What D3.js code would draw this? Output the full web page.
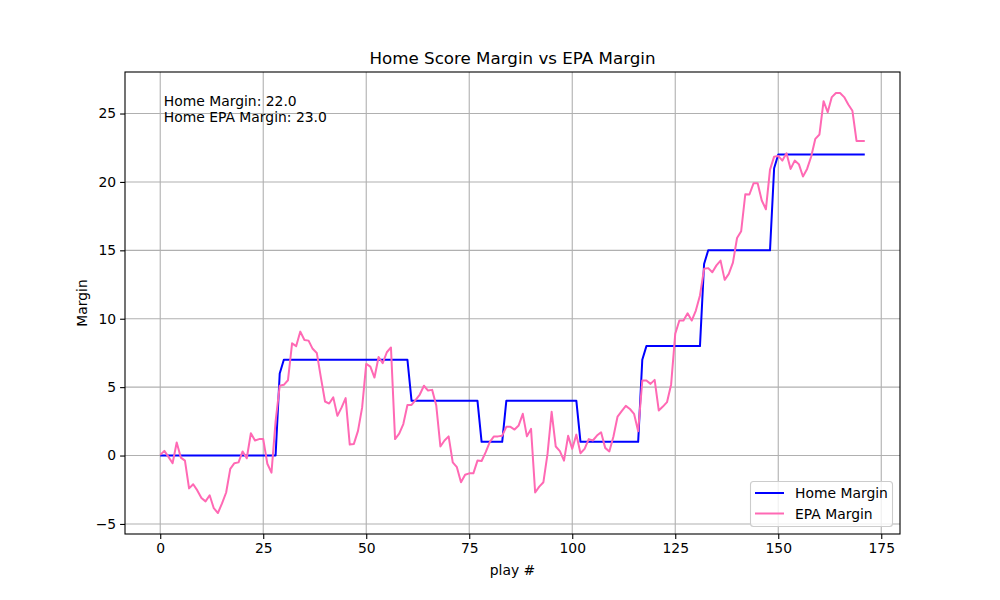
<!DOCTYPE html>
<html>
<head>
<meta charset="utf-8">
<script src="https://cdn.jsdelivr.net/npm/d3@7"></script>
<style>
  body { margin: 0; background: #fff; }
  svg { display: block; font-family: "DejaVu Sans", sans-serif; }
</style>
</head>
<body>
<svg id="chart" width="1000" height="600"></svg>
<script>
const homeMargin = [
  0,0,0,0,0,0,0,0,0,0, 0,0,0,0,0,0,0,0,0,0,
  0,0,0,0,0,0,0,0,0,6, 7,7,7,7,7,7,7,7,7,7,
  7,7,7,7,7,7,7,7,7,7, 7,7,7,7,7,7,7,7,7,7,
  7,4,4,4,4,4,4,4,4,4, 4,4,4,4,4,4,4,4,1,1,
  1,1,1,1,4,4,4,4,4,4, 4,4,4,4,4,4,4,4,4,4,
  4,4,1,1,1,1,1,1,1,1, 1,1,1,1,1,1,1,7,8,8,
  8,8,8,8,8,8,8,8,8,8, 8,8,14,15,15,15,15,15,15,15,
  15,15,15,15,15,15,15,15,15,21, 22,22,22,22,22,22,22,22,22,22,
  22,22,22,22,22,22,22,22,22,22, 22,22
];
const epaMargin = [
  0.05,0.34,-0.1,-0.56,0.95,-0.15,-0.37,-2.4,-2.1,-2.55,
  -3.1,-3.35,-2.9,-3.85,-4.2,-3.5,-2.7,-0.97,-0.56,-0.5,
  0.3,-0.2,1.63,1.1,1.2,1.2,-0.6,-1.25,2.5,5.1,
  5.17,5.5,8.2,8.0,9.06,8.45,8.4,7.8,7.5,5.7,
  3.95,3.8,4.25,2.9,3.5,4.2,0.8,0.85,1.8,3.5,
  6.7,6.5,5.7,7.2,6.75,7.55,7.9,1.2,1.6,2.3,
  3.7,3.7,4.07,4.46,5.1,4.75,4.8,3.65,0.66,1.1,
  1.4,-0.5,-0.85,-1.95,-1.4,-1.3,-1.3,-0.37,-0.4,0.25,
  1.0,1.4,1.4,1.45,2.1,2.1,1.9,2.2,3.05,1.4,
  1.95,-2.7,-2.27,-1.95,0.12,3.2,0.66,0.32,-0.37,1.44,
  0.49,1.53,0.17,0.49,1.2,1.1,1.46,1.7,0.56,0.3,
  1.39,2.85,3.24,3.63,3.4,3.05,1.78,5.48,5.48,5.24,
  5.53,3.3,3.58,3.9,5.2,8.9,9.87,9.87,10.4,9.87,
  10.6,11.7,13.65,13.7,13.4,13.9,14.25,12.84,13.28,14.1,
  15.9,16.4,19.1,19.08,19.9,19.9,18.64,18.0,20.9,21.85,
  21.9,21.56,22.1,20.95,21.56,21.3,20.4,20.95,21.86,23.15,
  23.47,25.9,25.1,26.2,26.5,26.5,26.2,25.66,25.2,23.0,
  23.0,23.0
];
const xTicks = [0,25,50,75,100,125,150,175];
const yTicks = [-5,0,5,10,15,20,25];
const seriesNames = ["Home Margin","EPA Margin"];
const annotation = ["Home Margin: 22.0","Home EPA Margin: 23.0"];

const plays = homeMargin.map((_, i) => i);
const svg = d3.select("#chart");
const L = 125, R = 900, T = 72, B = 534;

const xMin = 0, xMax = plays.length - 1;
const xPad = (xMax - xMin) * 0.05;
const x = d3.scaleLinear().domain([xMin - xPad, xMax + xPad]).range([L, R]);
const allY = homeMargin.concat(epaMargin);
const yMin = d3.min(allY), yMax = d3.max(allY);
const yPad = (yMax - yMin) * 0.05;
const y = d3.scaleLinear().domain([yMin - yPad, yMax + yPad]).range([B, T]);

// grid
const grid = svg.append("g");
xTicks.forEach(t => grid.append("line").attr("x1", x(t)).attr("x2", x(t)).attr("y1", T).attr("y2", B)
  .attr("stroke", "#b0b0b0").attr("stroke-width", 1.1));
yTicks.forEach(t => grid.append("line").attr("x1", L).attr("x2", R).attr("y1", y(t)).attr("y2", y(t))
  .attr("stroke", "#b0b0b0").attr("stroke-width", 1.1));

// lines
const line = (arr) => d3.line().x((d, i) => x(i)).y(d => y(d))(arr);
svg.append("path").attr("d", line(homeMargin)).attr("fill", "none")
  .attr("stroke", "#0000ff").attr("stroke-width", 2).attr("stroke-linejoin", "round");
svg.append("path").attr("d", line(epaMargin)).attr("fill", "none")
  .attr("stroke", "#ff69b4").attr("stroke-width", 2).attr("stroke-linejoin", "round");

// frame
svg.append("rect").attr("x", L).attr("y", T).attr("width", R - L).attr("height", B - T)
  .attr("fill", "none").attr("stroke", "#000").attr("stroke-width", 1.1);

// axes
const xAxis = d3.axisBottom(x).tickValues(xTicks).tickSize(4.9).tickPadding(4).tickFormat(d3.format("d"));
const gx = svg.append("g").attr("transform", `translate(0,${B})`).call(xAxis);
const yAxis = d3.axisLeft(y).tickValues(yTicks).tickSize(4.9).tickPadding(4)
  .tickFormat(d => d < 0 ? "\u2212" + Math.abs(d) : String(d));
const gy = svg.append("g").attr("transform", `translate(${L},0)`).call(yAxis);
[gx, gy].forEach(g => {
  g.select(".domain").remove();
  g.selectAll(".tick line").attr("stroke", "#000").attr("stroke-width", 1.1);
  g.selectAll(".tick text").attr("font-family", "DejaVu Sans").attr("font-size", "13.9px").attr("fill", "#000");
});

// title & labels
svg.append("text").attr("x", (L + R) / 2).attr("y", 64).attr("text-anchor", "middle")
  .attr("font-size", "16.7px").text("Home Score Margin vs EPA Margin");
svg.append("text").attr("x", (L + R) / 2).attr("y", 575).attr("text-anchor", "middle")
  .attr("font-size", "13.9px").text("play #");
svg.append("text").attr("transform", `translate(87,${(T + B) / 2}) rotate(-90)`).attr("text-anchor", "middle")
  .attr("font-size", "13.9px").text("Margin");

// annotation
annotation.forEach((s, i) => svg.append("text").attr("x", L + 0.05 * (R - L)).attr("y", 106 + i * 16)
  .attr("font-size", "13.9px").text(s));

// legend
const lg = svg.append("g");
lg.append("rect").attr("x", 750.5).attr("y", 481.5).attr("width", 142).attr("height", 45).attr("rx", 3)
  .attr("fill", "#fff").attr("fill-opacity", 0.8).attr("stroke", "#cccccc").attr("stroke-width", 1.1);
const colors = ["#0000ff", "#ff69b4"];
seriesNames.forEach((n, i) => {
  const yy = 493 + i * 20.5;
  lg.append("line").attr("x1", 755).attr("x2", 784).attr("y1", yy).attr("y2", yy)
    .attr("stroke", colors[i]).attr("stroke-width", 2);
  lg.append("text").attr("x", 795).attr("y", yy + 5).attr("font-size", "13.9px").text(n);
});
</script>
</body>
</html>
